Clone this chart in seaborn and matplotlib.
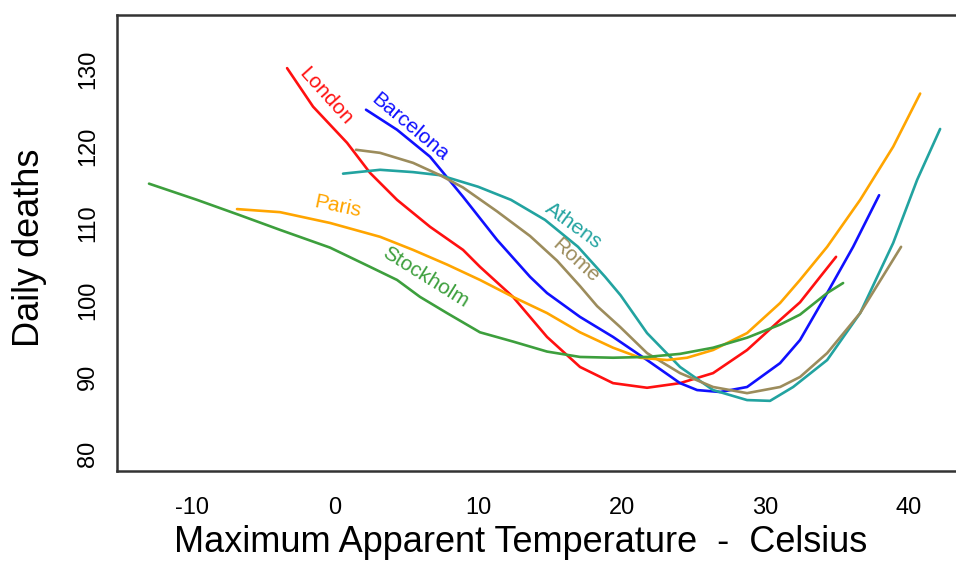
import numpy as np
import pandas as pd
import matplotlib
matplotlib.use("Agg")
import matplotlib.pyplot as plt
import seaborn as sns

# ---- data ----
cities = ["London", "Barcelona", "Athens", "Rome", "Paris", "Stockholm"]
colors = ["#ff1010", "#1010ff", "#22a3a0", "#9c8c5c", "#ffa500", "#3d9f3d"]

london_t = [-3.34, -1.53, 0.84, 2.44, 4.32, 6.62, 8.92, 10.10, 12.40, 14.77, 17.07, 19.37,
            21.74, 24.04, 26.34, 28.71, 31.01, 32.40, 33.80, 34.91]
london_d = [130.1, 125.1, 120.4, 116.5, 113.0, 109.5, 106.5, 104.3, 100.4, 95.2, 91.3, 89.2,
            88.6, 89.2, 90.5, 93.5, 97.4, 99.7, 103.0, 105.6]

barcelona_t = [2.16, 4.32, 6.62, 8.92, 11.29, 13.59, 14.77, 17.07, 19.37, 21.74, 24.04, 25.23,
               26.83, 28.71, 31.01, 32.40, 34.29, 36.10, 37.91]
barcelona_d = [124.7, 122.1, 118.6, 113.4, 107.8, 103.0, 100.9, 97.8, 95.2, 92.2, 89.2, 88.3,
               88.05, 88.7, 91.8, 94.8, 100.9, 106.9, 113.6]

athens_t = [0.56, 3.14, 5.44, 7.32, 9.97, 12.26, 14.63, 16.93, 18.82, 19.90, 21.74, 24.04,
            26.34, 28.71, 30.31, 31.92, 34.29, 36.59, 38.89, 40.56, 42.16]
athens_d = [116.4, 116.9, 116.6, 116.2, 114.7, 113.0, 110.4, 106.9, 103.0, 100.6, 95.7, 91.3,
            88.3, 87.0, 86.9, 88.7, 92.2, 98.3, 107.4, 115.6, 122.2]

rome_t = [1.46, 3.14, 5.44, 7.32, 8.92, 11.29, 13.59, 15.47, 17.07, 18.26, 19.86, 21.74, 24.04,
          26.34, 28.71, 31.01, 32.40, 34.29, 36.59, 39.44]
rome_d = [119.5, 119.1, 117.8, 116.2, 114.6, 111.5, 108.3, 105.1, 101.8, 99.2, 96.5, 93.1, 90.5,
          88.7, 87.9, 88.7, 90.0, 93.1, 98.3, 106.9]

paris_t = [-6.83, -3.83, -0.35, 3.14, 5.44, 7.80, 10.10, 12.40, 14.77, 17.07, 19.37, 21.25,
           23.14, 24.53, 26.34, 28.71, 31.01, 32.40, 34.29, 36.59, 38.89, 40.77]
paris_d = [111.8, 111.4, 110.0, 108.2, 106.5, 104.6, 102.6, 100.4, 98.3, 95.8, 93.8, 92.5,
           92.2, 92.5, 93.5, 95.7, 99.6, 102.6, 106.9, 113.0, 119.9, 126.8]

stockholm_t = [-12.96, -9.62, -6.62, -3.83, -0.35, 2.44, 4.32, 5.92, 7.80, 10.10, 12.40, 14.77,
               17.07, 19.37, 21.74, 24.04, 26.34, 28.71, 31.01, 32.40, 34.29, 35.40]
stockholm_d = [115.1, 113.0, 111.0, 109.1, 106.8, 104.3, 102.6, 100.4, 98.3, 95.8, 94.6, 93.3,
               92.6, 92.5, 92.6, 93.0, 93.8, 95.1, 96.8, 98.1, 100.9, 102.2]

label_t = [-0.63, 5.23, 16.59, 16.75, 0.21, 6.27]
label_d = [126.5, 122.5, 109.6, 105.1, 112.1, 102.9]
label_rot = [-48, -40, -36, -42, -12, -32]

x_ticks = [-10, 0, 10, 20, 30, 40]
y_ticks = [80, 90, 100, 110, 120, 130]

series = {
    "London": (london_t, london_d),
    "Barcelona": (barcelona_t, barcelona_d),
    "Athens": (athens_t, athens_d),
    "Rome": (rome_t, rome_d),
    "Paris": (paris_t, paris_d),
    "Stockholm": (stockholm_t, stockholm_d),
}
frames = [pd.DataFrame({"temp": t, "deaths": d, "city": c}) for c, (t, d) in series.items()]
df = pd.concat(frames, ignore_index=True)

# ---- plot ----
sns.set_theme(style="white")
plt.rcParams["font.family"] = ["Liberation Sans", "DejaVu Sans"]

fig = plt.figure(figsize=(9.56, 5.62), dpi=100)
ax = fig.add_axes([0.1224, 0.1619, 0.8787, 0.8114])

sns.lineplot(data=df, x="temp", y="deaths", hue="city", hue_order=cities,
             palette=dict(zip(cities, colors)), estimator=None, sort=True,
             linewidth=1.9, legend=False, ax=ax)

for c, col, tx, ty, rot in zip(cities, colors, label_t, label_d, label_rot):
    ax.text(tx, ty, c, color=col, fontsize=15, rotation=rot, rotation_mode="anchor",
            ha="center", va="center")

ax.set_xlim(-15.19, 43.34)
ax.set_ylim(77.79, 137.0)
ax.set_xticks(x_ticks)
ax.set_yticks(y_ticks)
ax.set_xticklabels([str(v) for v in x_ticks], fontsize=17, color="black")
ax.set_yticklabels([str(v) for v in y_ticks], fontsize=17, rotation=90, va="center",
                   color="black")
ax.tick_params(axis="x", length=0, pad=19)
ax.tick_params(axis="y", length=0, pad=13)

for s in ax.spines.values():
    s.set_color("#333333")
    s.set_linewidth(1.8)

ax.set_xlabel("Maximum Apparent Temperature  -  Celsius", fontsize=26, color="black")
ax.set_ylabel("Daily deaths", fontsize=26, color="black")
ax.xaxis.set_label_coords(0.481, -0.156)
ax.yaxis.set_label_coords(-0.1036, 0.489)
ax.xaxis.label.set_va("center")
ax.yaxis.label.set_va("center")

fig.savefig("out.png", dpi=100)
